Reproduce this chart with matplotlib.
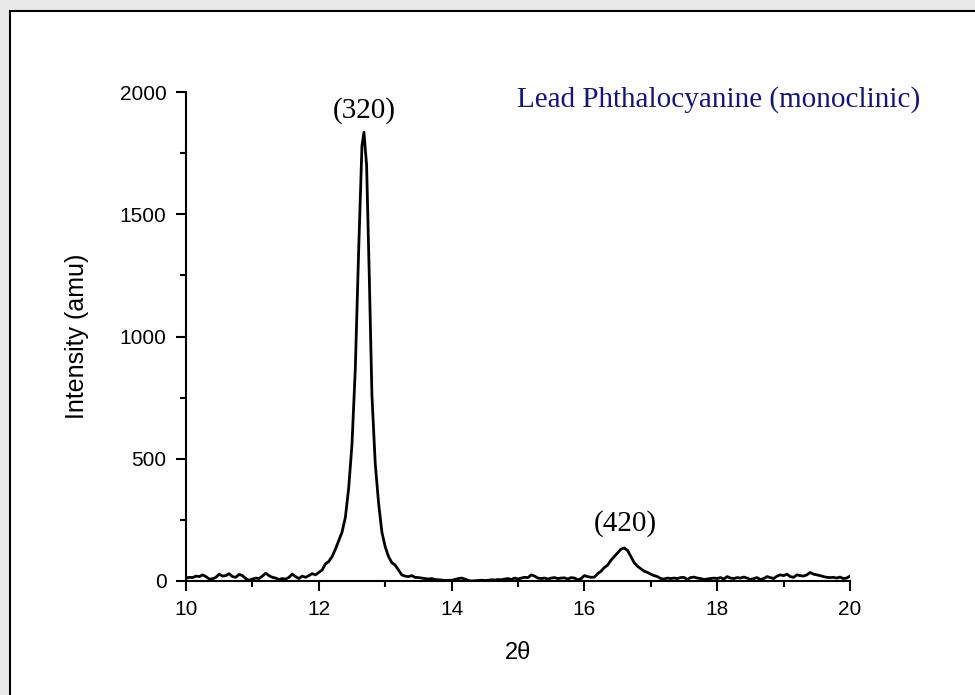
import matplotlib.pyplot as plt
from matplotlib.patches import Rectangle
from matplotlib.ticker import MultipleLocator

# XRD pattern of lead phthalocyanine
two_theta = [
    10.00, 10.05, 10.10, 10.15, 10.20, 10.25, 10.30, 10.35, 10.40, 10.45,
    10.50, 10.55, 10.60, 10.65, 10.70, 10.75, 10.80, 10.85, 10.90, 10.95,
    11.00, 11.05, 11.10, 11.15, 11.20, 11.25, 11.30, 11.35, 11.40, 11.45,
    11.50, 11.55, 11.60, 11.65, 11.70, 11.75, 11.80, 11.85, 11.90, 11.95,
    12.00, 12.05, 12.10, 12.15, 12.20, 12.25, 12.30, 12.35, 12.40, 12.45,
    12.50, 12.55, 12.60, 12.65, 12.68, 12.72, 12.76, 12.80, 12.85, 12.90,
    12.95, 13.00, 13.05, 13.10, 13.15, 13.20, 13.25, 13.30, 13.35, 13.40,
    13.45, 13.50, 13.55, 13.60, 13.65, 13.70, 13.75, 13.80, 13.85, 13.90,
    13.95, 14.00, 14.05, 14.10, 14.15, 14.20, 14.25, 14.30, 14.35, 14.40,
    14.45, 14.50, 14.55, 14.60, 14.65, 14.70, 14.75, 14.80, 14.85, 14.90,
    14.95, 15.00, 15.05, 15.10, 15.15, 15.20, 15.25, 15.30, 15.35, 15.40,
    15.45, 15.50, 15.55, 15.60, 15.65, 15.70, 15.75, 15.80, 15.85, 15.90,
    15.95, 16.00, 16.05, 16.10, 16.15, 16.20, 16.25, 16.30, 16.35, 16.40,
    16.45, 16.50, 16.55, 16.60, 16.65, 16.70, 16.75, 16.80, 16.85, 16.90,
    16.95, 17.00, 17.05, 17.10, 17.15, 17.20, 17.25, 17.30, 17.35, 17.40,
    17.45, 17.50, 17.55, 17.60, 17.65, 17.70, 17.75, 17.80, 17.85, 17.90,
    17.95, 18.00, 18.05, 18.10, 18.15, 18.20, 18.25, 18.30, 18.35, 18.40,
    18.45, 18.50, 18.55, 18.60, 18.65, 18.70, 18.75, 18.80, 18.85, 18.90,
    18.95, 19.00, 19.05, 19.10, 19.15, 19.20, 19.25, 19.30, 19.35, 19.40,
    19.45, 19.50, 19.55, 19.60, 19.65, 19.70, 19.75, 19.80, 19.85, 19.90,
    19.95, 20.00,
]
intensity = [
    12, 15, 14, 20, 18, 25, 18, 8, 9, 15,
    28, 20, 22, 30, 18, 15, 27, 22, 10, 3,
    8, 12, 10, 20, 32, 22, 15, 12, 6, 10,
    8, 15, 28, 18, 10, 20, 15, 22, 30, 25,
    35, 45, 70, 80, 100, 130, 165, 200, 260, 380,
    560, 870, 1350, 1780, 1835, 1700, 1250, 760, 480, 320,
    200, 140, 100, 75, 65, 45, 25, 20, 18, 22,
    15, 14, 12, 10, 8, 10, 6, 5, 4, 2,
    3, 3, 6, 10, 12, 8, 2, 0, 1, 2,
    3, 2, 3, 5, 4, 6, 5, 8, 10, 6,
    12, 8, 12, 15, 14, 25, 20, 12, 10, 12,
    8, 12, 14, 10, 12, 13, 8, 14, 12, 5,
    10, 22, 18, 15, 16, 30, 40, 55, 65, 85,
    100, 115, 130, 135, 125, 100, 75, 60, 50, 40,
    35, 28, 22, 18, 10, 8, 12, 10, 12, 10,
    14, 15, 6, 14, 16, 12, 10, 6, 8, 10,
    12, 10, 14, 8, 18, 12, 10, 14, 12, 16,
    12, 6, 10, 14, 6, 10, 18, 14, 10, 20,
    25, 22, 28, 18, 15, 25, 22, 20, 25, 35,
    28, 25, 22, 18, 15, 14, 15, 12, 16, 10,
    12, 20,
]

peak_labels = ["(320)", "(420)"]
peak_pos = [12.68, 16.61]
label_y = [1926, 237]

fig = plt.figure(figsize=(9.75, 6.95), dpi=100, facecolor="#e8e8e8")
# white panel with black frame, behind the axes
fig.patches.append(Rectangle((10 / 975, -0.01), 1.0, 1.01 - 11 / 695, transform=fig.transFigure,
                             facecolor="white", edgecolor="black", linewidth=1.5, zorder=-5))

ax = fig.add_axes([186 / 975, 1 - 581 / 695, 664 / 975, 489 / 695])
ax.patch.set_alpha(0)
ax.plot(two_theta, intensity, color="black", linewidth=2.0)

ax.set_xlim(10, 20)
ax.set_ylim(0, 2000)
ax.xaxis.set_major_locator(MultipleLocator(2))
ax.xaxis.set_minor_locator(MultipleLocator(1))
ax.yaxis.set_major_locator(MultipleLocator(500))
ax.yaxis.set_minor_locator(MultipleLocator(250))
for s in ["top", "right"]:
    ax.spines[s].set_visible(False)
for s in ["left", "bottom"]:
    ax.spines[s].set_linewidth(1.5)
ax.tick_params(which="major", direction="out", length=7, width=1.5, labelsize=15)
ax.tick_params(axis="y", which="major", pad=7)
ax.tick_params(axis="x", which="major", pad=7)
ax.tick_params(which="minor", direction="out", length=4, width=1.5)
for lab in ax.get_xticklabels() + ax.get_yticklabels():
    lab.set_family("Liberation Sans")

ax.set_xlabel("2θ", family="Liberation Sans", fontsize=17, labelpad=16)
ax.set_ylabel("Intensity (amu)", family="Liberation Sans", fontsize=18, labelpad=22)

for txt, xp, yp in zip(peak_labels, peak_pos, label_y):
    ax.text(xp, yp, txt, ha="center", va="center", family="Liberation Serif", fontsize=21)

fig.text(920 / 975, 1 - 100 / 695, "Lead Phthalocyanine (monoclinic)", ha="right", va="center",
         family="Liberation Serif", fontsize=21, color="#141487")

fig.savefig("out.png", dpi=100, facecolor=fig.get_facecolor())
